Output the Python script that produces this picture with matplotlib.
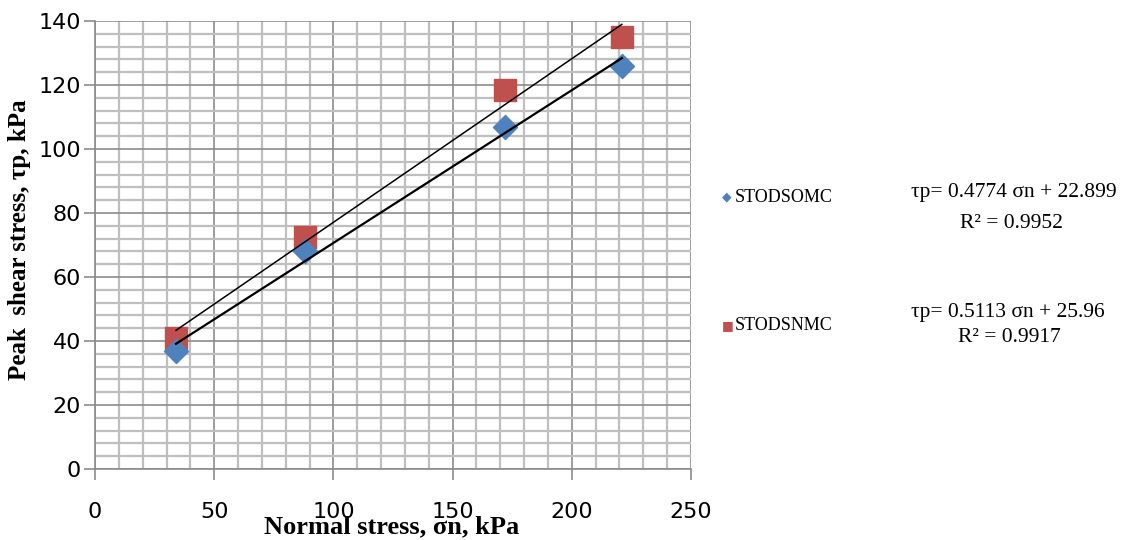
import matplotlib.pyplot as plt
import numpy as np
from matplotlib.ticker import MultipleLocator

# data
normal_stress = [34, 88, 172, 221]
somc_shear = [37, 68, 107, 126]
snmc_shear = [41, 72.5, 118.5, 135]

# fitted trendlines (from the chart's own equations)
somc_fit = (0.4774, 22.899)
snmc_fit = (0.5113, 25.96)
somc_eq = ["τp= 0.4774 σn + 22.899", "R² = 0.9952"]
snmc_eq = ["τp= 0.5113 σn + 25.96", "R² = 0.9917"]

serif = "Liberation Serif"
tick_font = "DejaVu Sans"

fig = plt.figure(figsize=(11.23, 5.4), dpi=100)
ax = fig.add_axes([95 / 1123, 1 - 469 / 540, 596 / 1123, 448 / 540])

ax.set_xlim(0, 250)
ax.set_ylim(0, 140)
ax.xaxis.set_major_locator(MultipleLocator(50))
ax.xaxis.set_minor_locator(MultipleLocator(10))
ax.yaxis.set_major_locator(MultipleLocator(20))
ax.yaxis.set_minor_locator(MultipleLocator(4))

ax.grid(which="minor", color="#bfbfbf", linewidth=1.6)
ax.grid(which="major", color="#8c8c8c", linewidth=1.2)
ax.set_axisbelow(True)

for s in ["top", "right"]:
    ax.spines[s].set_visible(False)
for s in ["left", "bottom"]:
    ax.spines[s].set_color("#8c8c8c")
    ax.spines[s].set_linewidth(1.2)

ax.tick_params(which="major", length=8, width=1.2, color="#8c8c8c",
               labelsize=16, labelcolor="black")
ax.tick_params(axis="x", which="major", pad=16)
ax.tick_params(axis="y", which="major", pad=2)
ax.tick_params(which="minor", length=0)
for lab in ax.get_xticklabels() + ax.get_yticklabels():
    lab.set_family(tick_font)

# trendlines
xs = np.array([min(normal_stress), max(normal_stress)])
ax.plot(xs, somc_fit[0] * xs + somc_fit[1], color="black", linewidth=1.6, zorder=3)
ax.plot(xs, snmc_fit[0] * xs + snmc_fit[1], color="black", linewidth=1.1, zorder=3)

ax.scatter(normal_stress, snmc_shear, marker="s", s=230, color="#c0504d",
           zorder=2, label="STODSNMC")
ax.scatter(normal_stress, somc_shear, marker="D", s=150, color="#4f81bd",
           zorder=2, label="STODSOMC")

# axis titles, placed as in the reference (x title sits over the tick labels)
fig.text(392 / 1123, 1 - 533 / 540, "Normal stress, σn, kPa", fontfamily=serif,
         fontweight="bold", fontsize=19, ha="center", va="baseline")
fig.text(20 / 1123, 1 - 240 / 540, "Peak  shear stress, τp, kPa", fontfamily=serif,
         fontweight="bold", fontsize=18, ha="center", va="center", rotation=90)

# legend entries and equations
fig.text(722 / 1123, 1 - 197 / 540, "◆", color="#4f81bd", fontsize=9,
         ha="left", va="center", fontfamily="DejaVu Sans")
fig.text(735 / 1123, 1 - 197 / 540, "STODSOMC", fontfamily=serif, fontsize=13,
         ha="left", va="center")
fig.text(722 / 1123, 1 - 326 / 540, "■", color="#c0504d", fontsize=9,
         ha="left", va="center", fontfamily="DejaVu Sans")
fig.text(735 / 1123, 1 - 326 / 540, "STODSNMC", fontfamily=serif, fontsize=13,
         ha="left", va="center")

fig.text(1014 / 1123, 1 - 192 / 540, somc_eq[0], fontfamily=serif, fontsize=15.5,
         ha="center", va="center")
fig.text(1011 / 1123, 1 - 224 / 540, somc_eq[1], fontfamily=serif, fontsize=15.5,
         ha="center", va="center")
fig.text(1008 / 1123, 1 - 313 / 540, snmc_eq[0], fontfamily=serif, fontsize=15.5,
         ha="center", va="center")
fig.text(1009 / 1123, 1 - 337 / 540, snmc_eq[1], fontfamily=serif, fontsize=15.5,
         ha="center", va="center")

fig.savefig("out.png", dpi=100)
